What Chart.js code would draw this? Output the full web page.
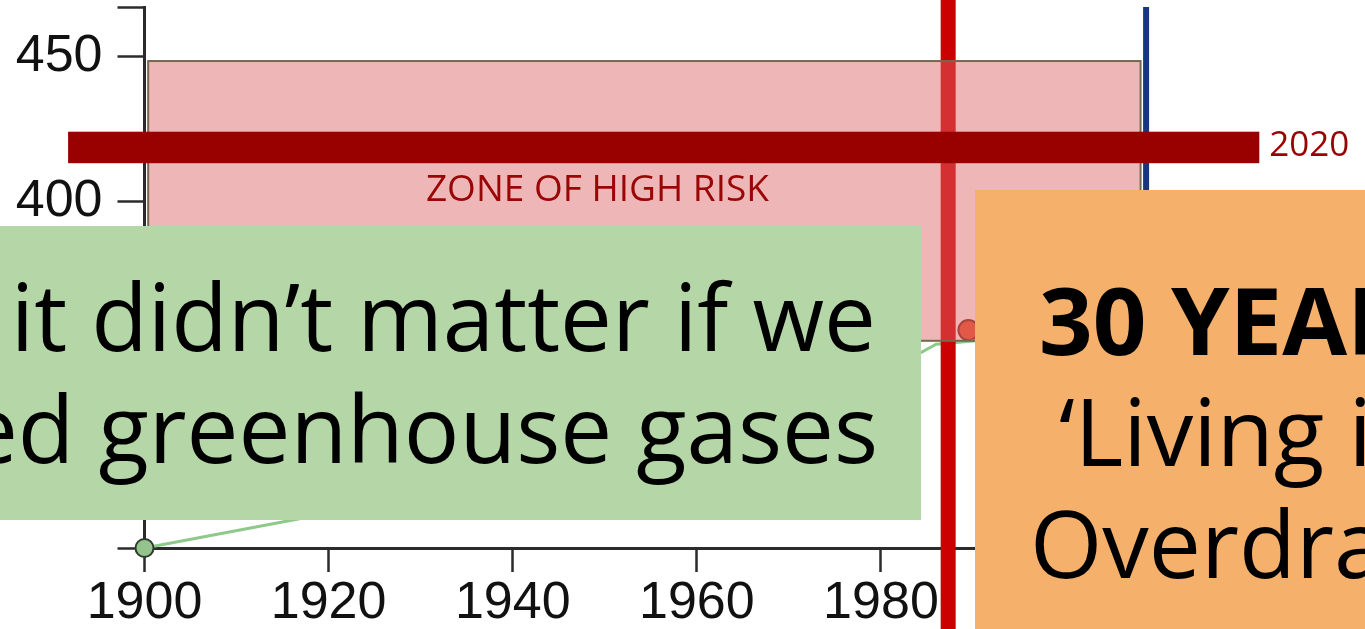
<!DOCTYPE html>
<html><head><meta charset="utf-8">
<script src="https://cdn.jsdelivr.net/npm/chart.js@4.4.1/dist/chart.umd.min.js"></script>
<style>html,body{margin:0;padding:0;background:#fff;overflow:hidden}#wrap{position:relative;width:1365px;height:629px}canvas{display:block}</style>
</head><body><div id="wrap"><canvas id="c" width="1365" height="629"></canvas></div>
<script>
// ---- data ----
const years = [1900, 1920, 1940, 1960, 1980, 1986, 1995];
const co2 = [280, 292, 301, 317, 340, 350.5, 353];
const redPointYears = [1989.5];
const redPointValues = [355.4];
const xTicks = [1900, 1920, 1940, 1960, 1980, 2000, 2020];
const xTickLabels = ['1900', '1920', '1940', '1960', '1980', '2000', '2020'];
const yTicks = [280, 300, 350, 400, 450, 467.2];
const yTickLabels = ['', '300', '350', '400', '450', ''];
const xRange = [1900, 2032.58];
const yRange = [280, 467.2];
const zoneYears = [1900.4, 2008.2];
const zoneValues = [351.7, 448.5];
const zoneLabel = 'ZONE OF HIGH RISK';
const zoneLabelAt = [1949.2, 400];
const barYears = [1891.7, 2021.1];
const barValue = [418.6];
const barLabel = '2020';
const redLineYear = [1987.3];
const blueLineYear = [2008.8];
const greenLines = ['it didn\u2019t matter if we', 'ed greenhouse gases'];
const orangeLines = ['30 YEARS', '\u2018Living in', 'Overdraft\u2019'];

const overlays = {
  id: 'overlays',
  afterDatasetsDraw(chart) {
    const ctx = chart.ctx, x = chart.scales.x, y = chart.scales.y;
    ctx.save();
    // red vertical line
    const rx = x.getPixelForValue(redLineYear[0]);
    ctx.fillStyle = '#cc0000';
    ctx.fillRect(rx - 7.5, 0, 15, chart.height);
    // blue vertical line
    const bx = x.getPixelForValue(blueLineYear[0]);
    const yt = y.getPixelForValue(y.max), yb = y.getPixelForValue(y.min);
    ctx.fillStyle = '#17387c';
    ctx.fillRect(bx - 3, yt, 6, yb - yt);
    // zone rectangle
    const zx0 = x.getPixelForValue(zoneYears[0]), zx1 = x.getPixelForValue(zoneYears[1]);
    const zy0 = y.getPixelForValue(zoneValues[1]), zy1 = y.getPixelForValue(zoneValues[0]);
    ctx.fillStyle = 'rgba(221,100,104,0.47)';
    ctx.fillRect(zx0, zy0, zx1 - zx0, zy1 - zy0);
    ctx.strokeStyle = '#76684f';
    ctx.lineWidth = 2;
    ctx.strokeRect(zx0, zy0, zx1 - zx0, zy1 - zy0);
    // 2020 bar
    const bx0 = x.getPixelForValue(barYears[0]), bx1 = x.getPixelForValue(barYears[1]);
    const by = y.getPixelForValue(barValue[0]);
    ctx.fillStyle = '#990000';
    ctx.fillRect(bx0, by - 15.75, bx1 - bx0, 31.5);
    ctx.font = '35px "Open Sans"';
    ctx.textAlign = 'left';
    ctx.textBaseline = 'alphabetic';
    ctx.fillText(barLabel, bx1 + 10, by + 8.5);
    // zone label
    ctx.fillStyle = '#9a0505';
    ctx.font = '37px "Open Sans"';
    ctx.textAlign = 'center';
    ctx.fillText(zoneLabel, x.getPixelForValue(zoneLabelAt[0]), y.getPixelForValue(zoneLabelAt[1]));
    ctx.restore();
  },
  afterDraw(chart) {
    const ctx = chart.ctx;
    ctx.save();
    // green box
    ctx.fillStyle = '#b5d7a8';
    ctx.fillRect(0, 226, 921, 294);
    ctx.fillStyle = '#000';
    ctx.font = '92.5px "Open Sans"';
    ctx.textAlign = 'right';
    ctx.textBaseline = 'alphabetic';
    ctx.fillText(greenLines[0], 876, 351);
    ctx.fillText(greenLines[1], 878, 463);
    // orange box
    ctx.fillStyle = '#f5b06b';
    ctx.fillRect(975, 190, 390, 439);
    ctx.fillStyle = '#000';
    ctx.textAlign = 'left';
    ctx.font = 'bold 94px "Open Sans"';
    ctx.fillText(orangeLines[0], 1039, 355);
    ctx.font = '93px "Open Sans"';
    ctx.fillText(orangeLines[1], 1059, 466);
    ctx.fillText(orangeLines[2], 1030, 578);
    ctx.restore();
  }
};

function axisCommon(tickLen, pad) {
  return {
    grid: { drawOnChartArea: false, drawTicks: true, tickLength: tickLen, tickWidth: 2.5, tickColor: '#2b2b2b' },
    border: { display: true, color: '#2b2b2b', width: 3 },
    ticks: { font: { family: 'Liberation Sans', size: 52 }, color: '#111', padding: pad, autoSkip: false, maxRotation: 0, minRotation: 0 }
  };
}

function build() {
  const xa = axisCommon(24, 0);
  xa.type = 'linear'; xa.min = xRange[0]; xa.max = xRange[1];
  xa.afterBuildTicks = s => { s.ticks = xTicks.map(v => ({ value: v })); };
  xa.afterFit = s => { s.height = 81; s.paddingLeft = 0; s.paddingRight = 0; };
  xa.ticks.callback = v => xTickLabels[xTicks.indexOf(v)];
  const ya = axisCommon(27, 15);
  ya.type = 'linear'; ya.min = yRange[0]; ya.max = yRange[1];
  ya.afterBuildTicks = s => { s.ticks = yTicks.map(v => ({ value: v })); };
  ya.afterFit = s => { s.width = 144.5; s.paddingTop = 0; s.paddingBottom = 0; };
  ya.ticks.callback = v => yTickLabels[yTicks.indexOf(v)];

  new Chart(document.getElementById('c'), {
    type: 'line',
    data: {
      datasets: [
        {
          data: years.map((yr, i) => ({ x: yr, y: co2[i] })),
          borderColor: '#8ec98a', borderWidth: 3, tension: 0, clip: false,
          pointRadius: ctx => ctx.dataIndex === 0 ? 9 : 0,
          pointBackgroundColor: '#93c48b', pointBorderColor: '#2f3a2f', pointBorderWidth: 2
        },
        {
          data: redPointYears.map((yr, i) => ({ x: yr, y: redPointValues[i] })),
          showLine: false, clip: false, pointRadius: 10,
          pointBackgroundColor: '#e6502a', pointBorderColor: '#7a2a1a', pointBorderWidth: 2
        }
      ]
    },
    options: {
      responsive: false, animation: false, devicePixelRatio: 1,
      layout: { autoPadding: false, padding: { top: 7, left: 0, right: 0, bottom: 0 } },
      plugins: { legend: { display: false }, tooltip: { enabled: false } },
      scales: { x: xa, y: ya }
    },
    plugins: [overlays]
  });
}

Promise.all([
  document.fonts.load('93px "Open Sans"'),
  document.fonts.load('bold 94px "Open Sans"'),
  document.fonts.load('52px "Liberation Sans"')
]).then(build, build);
</script>
</body></html>
